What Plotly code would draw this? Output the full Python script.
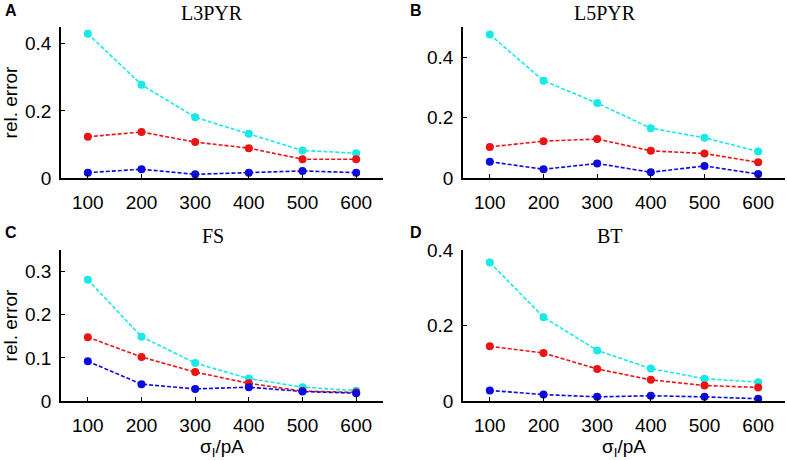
import plotly.graph_objects as go

sigma = [100, 200, 300, 400, 500, 600]

panels = ["L3PYR", "L5PYR", "FS", "BT"]
letters = ["A", "B", "C", "D"]

# series values per panel (cyan, red, blue)
l3pyr_cyan = [0.430, 0.278, 0.181, 0.132, 0.082, 0.074]
l3pyr_red = [0.123, 0.137, 0.107, 0.089, 0.056, 0.056]
l3pyr_blue = [0.016, 0.026, 0.011, 0.016, 0.021, 0.016]

l5pyr_cyan = [0.475, 0.322, 0.248, 0.165, 0.133, 0.088]
l5pyr_red = [0.103, 0.122, 0.129, 0.090, 0.081, 0.052]
l5pyr_blue = [0.054, 0.029, 0.048, 0.019, 0.040, 0.013]

fs_cyan = [0.281, 0.149, 0.088, 0.052, 0.032, 0.024]
fs_red = [0.148, 0.102, 0.067, 0.041, 0.023, 0.020]
fs_blue = [0.092, 0.039, 0.028, 0.032, 0.022, 0.018]

bt_cyan = [0.367, 0.222, 0.134, 0.086, 0.059, 0.050]
bt_red = [0.145, 0.127, 0.085, 0.056, 0.041, 0.036]
bt_blue = [0.028, 0.017, 0.011, 0.014, 0.011, 0.006]

y_ranges = [[0, 0.45], [0, 0.5], [0, 0.35], [0, 0.4]]
y_ticks = [[0, 0.2, 0.4], [0, 0.2, 0.4], [0, 0.1, 0.2, 0.3], [0, 0.2, 0.4]]
x_ticks = [100, 200, 300, 400, 500, 600]

data = [
    (l3pyr_cyan, l3pyr_red, l3pyr_blue),
    (l5pyr_cyan, l5pyr_red, l5pyr_blue),
    (fs_cyan, fs_red, fs_blue),
    (bt_cyan, bt_red, bt_blue),
]
colors = ["rgb(25,232,232)", "rgb(235,20,20)", "rgb(10,10,225)"]

W, H = 787, 460
xdoms = [[61 / W, 383 / W], [463 / W, 785 / W]]
ydoms = [[(H - 178) / H, (H - 27) / H], [(H - 401) / H, (H - 250) / H]]

fig = go.Figure()
font_tick = dict(family="Liberation Sans, Arial", size=19, color="black")

for i in range(4):
    r, c = divmod(i, 2)
    ax = "" if i == 0 else str(i + 1)
    for series, col in zip(data[i], colors):
        fig.add_trace(go.Scatter(
            x=sigma, y=series, mode="lines+markers",
            line=dict(color=col, width=1.6, dash="4px,2px"),
            marker=dict(color=col, size=8),
            xaxis="x" + ax, yaxis="y" + ax, showlegend=False,
        ))
    xa = dict(
        domain=xdoms[c], range=[50, 650], tickvals=x_ticks,
        ticks="inside", ticklen=4, tickwidth=1.2, tickcolor="black",
        showline=True, linecolor="black", linewidth=1.5,
        showgrid=False, zeroline=False, tickfont=font_tick,
        anchor="y" + ax, ticklabelstandoff=6, automargin=False,
    )
    ya = dict(
        domain=ydoms[r], range=y_ranges[i], tickvals=y_ticks[i],
        ticktext=[("0" if v == 0 else f"{v:g}") for v in y_ticks[i]],
        ticks="inside", ticklen=4, tickwidth=1.2, tickcolor="black",
        showline=True, linecolor="black", linewidth=1.5,
        showgrid=False, zeroline=False, tickfont=font_tick,
        anchor="x" + ax, ticklabelstandoff=4, automargin=False,
    )
    if c == 0:
        ya["title"] = dict(text="rel. error", font=font_tick, standoff=6)
    if r == 1:
        xa["title"] = dict(text="σ<sub>I</sub>/pA", font=font_tick, standoff=4)
    fig.update_layout(**{"xaxis" + ax: xa, "yaxis" + ax: ya})

title_pos = [(212, 13), (605, 13), (213, 236), (610, 236)]
letter_pos = [(11, 11), (416, 11), (11, 233), (416, 233)]
for i in range(4):
    tx, ty = title_pos[i]
    fig.add_annotation(
        text=panels[i], x=tx / W, y=1 - ty / H, xref="paper", yref="paper",
        showarrow=False, xanchor="center", yanchor="middle",
        font=dict(family="Liberation Serif, Times New Roman", size=20, color="black"),
    )
    lx, ly = letter_pos[i]
    fig.add_annotation(
        text="<b>" + letters[i] + "</b>", x=lx / W, y=1 - ly / H,
        xref="paper", yref="paper", showarrow=False,
        xanchor="center", yanchor="middle",
        font=dict(family="Liberation Sans, Arial", size=16, color="black"),
    )

fig.update_layout(
    width=W, height=H, margin=dict(l=0, r=0, t=0, b=0, autoexpand=False),
    paper_bgcolor="white", plot_bgcolor="white",
)
fig.write_html(
    "out.html",
    config={"displayModeBar": False},
    post_script="document.body.style.margin='0px';document.body.style.overflow='hidden';",
)
